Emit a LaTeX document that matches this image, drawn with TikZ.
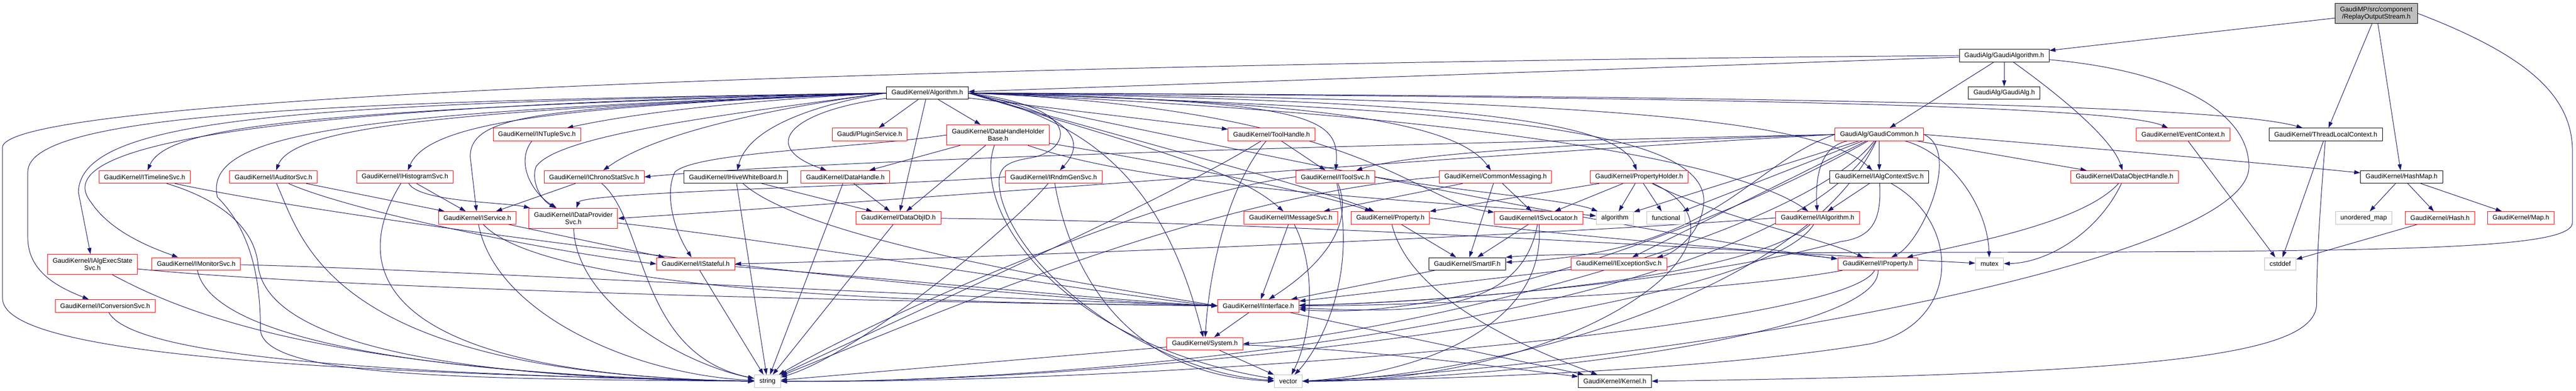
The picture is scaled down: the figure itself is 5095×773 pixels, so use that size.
\documentclass[tikz,border=0pt]{standalone}
\usepackage{fontspec}
\setmainfont{Liberation Sans}
\usetikzlibrary{arrows.meta}
\definecolor{midnight}{HTML}{191970}
\definecolor{grey75}{HTML}{BFBFBF}
\pgfdeclarelayer{bg}
\pgfsetlayers{bg,main}

\begin{document}
\begin{tikzpicture}[x=1pt, y=-1pt,
  box/.style={rectangle, draw, fill=white, line width=1pt, font=\fontsize{13pt}{14pt}\selectfont, minimum height=25pt, inner xsep=10pt, inner ysep=2pt},
  redbox/.style={box, draw=red},
  blackbox/.style={box, draw=black},
  graybox/.style={box, draw=grey75},
  tworow/.style={align=center, minimum height=40pt},
  edge/.style={draw=midnight, line width=1pt, -{Triangle[length=12pt, width=8pt]}}
]
\useasboundingbox (0,0) rectangle (5095,773);

\node[box, fill=grey75, tworow] (root) at (4700,26.5) {GaudiMP/src/component\\/ReplayOutputStream.h};
\node[blackbox] (gaudialgo) at (3964,110) {GaudiAlg/GaudiAlgorithm.h};
\node[blackbox] (algorithm) at (1834,184) {GaudiKernel/Algorithm.h};
\node[blackbox] (gaudialg) at (3964,184) {GaudiAlg/GaudiAlg.h};

\node[redbox] (ntuple) at (1062,266) {GaudiKernel/INTupleSvc.h};
\node[redbox] (plugin) at (1720,266) {Gaudi/PluginService.h};
\node[redbox, tworow] (dhholder) at (1974,267) {GaudiKernel/DataHandleHolder\\Base.h};
\node[redbox] (toolhandle) at (2515,266) {GaudiKernel/ToolHandle.h};
\node[redbox] (common) at (3717,266) {GaudiAlg/GaudiCommon.h};
\node[redbox] (evctx) at (4318,266) {GaudiKernel/EventContext.h};
\node[blackbox] (tlctx) at (4600,266) {GaudiKernel/ThreadLocalContext.h};

\node[redbox] (timeline) at (286,350) {GaudiKernel/ITimelineSvc.h};
\node[redbox] (auditor) at (541,350) {GaudiKernel/IAuditorSvc.h};
\node[redbox] (histo) at (801,350) {GaudiKernel/IHistogramSvc.h};
\node[redbox] (chrono) at (1175,350) {GaudiKernel/IChronoStatSvc.h};
\node[blackbox] (hive) at (1455,350) {GaudiKernel/IHiveWhiteBoard.h};
\node[redbox] (dhandle) at (1672,350) {GaudiKernel/DataHandle.h};
\node[redbox] (rndm) at (2084,350) {GaudiKernel/IRndmGenSvc.h};
\node[redbox] (toolsvc) at (2641,350) {GaudiKernel/IToolSvc.h};
\node[redbox] (commonmsg) at (2958,350) {GaudiKernel/CommonMessaging.h};
\node[redbox] (propholder) at (3242,350) {GaudiKernel/PropertyHolder.h};
\node[blackbox] (algctx) at (3717,350) {GaudiKernel/IAlgContextSvc.h};
\node[redbox] (dobjhandle) at (4202,350) {GaudiKernel/DataObjectHandle.h};
\node[blackbox] (hashmap) at (4750,350) {GaudiKernel/HashMap.h};

\node[redbox] (service) at (944,431) {GaudiKernel/IService.h};
\node[redbox, tworow] (dataprov) at (1134,432) {GaudiKernel/IDataProvider\\Svc.h};
\node[redbox] (dataobjid) at (1777,431) {GaudiKernel/DataObjID.h};
\node[redbox] (msgsvc) at (2553,431) {GaudiKernel/IMessageSvc.h};
\node[redbox] (property) at (2750,431) {GaudiKernel/Property.h};
\node[redbox] (svcloc) at (3043,431) {GaudiKernel/ISvcLocator.h};
\node[graybox] (stdalgo) at (3194,431) {algorithm};
\node[graybox] (functional) at (3295,431) {functional};
\node[redbox] (ialgorithm) at (3595,431) {GaudiKernel/IAlgorithm.h};
\node[graybox] (umap) at (4675,431) {unordered\_map};
\node[redbox] (hash) at (4826,431) {GaudiKernel/Hash.h};
\node[redbox] (map) at (4986,431) {GaudiKernel/Map.h};

\node[redbox, tworow] (execstate) at (183,523) {GaudiKernel/IAlgExecState\\Svc.h};
\node[redbox] (monitor) at (388,522) {GaudiKernel/IMonitorSvc.h};
\node[redbox] (stateful) at (1376,522) {GaudiKernel/IStateful.h};
\node[blackbox] (smartif) at (2902,522) {GaudiKernel/SmartIF.h};
\node[redbox] (exception) at (3202,522) {GaudiKernel/IExceptionSvc.h};
\node[redbox] (iproperty) at (3714,522) {GaudiKernel/IProperty.h};
\node[graybox] (mutex) at (3935,522) {mutex};
\node[graybox] (cstddef) at (4510,522) {cstddef};

\node[redbox] (conversion) at (208,605) {GaudiKernel/IConversionSvc.h};
\node[redbox] (iinterface) at (2489,605) {GaudiKernel/IInterface.h};
\node[redbox] (system) at (2383,680) {GaudiKernel/System.h};
\node[graybox] (string) at (1518,754) {string};
\node[graybox] (vector) at (2548,754) {vector};
\node[blackbox] (kernel) at (3194,754) {GaudiKernel/Kernel.h};

\begin{pgfonlayer}{bg}
\fill[white] (0,0) rectangle (5095,773);

\draw[edge] (root) -- (gaudialgo);
\draw[edge] (root) -- (tlctx);
\draw[edge] (root) -- (hashmap);
\draw[edge] (root.east) .. controls (5000,110) and (5088,190) .. (5088,300) -- (5088,440) .. controls (5088,490) and (4800,497) .. (4000,499) .. controls (3300,500) and (3050,502) .. (smartif.north east);

\draw[edge] (gaudialgo) -- (algorithm);
\draw[edge] (gaudialgo) -- (gaudialg);
\draw[edge] (gaudialgo) -- (common);
\draw[edge] (gaudialgo) .. controls (4090,200) and (4180,280) .. (dobjhandle);
\draw[edge] (gaudialgo.west) .. controls (2500,120) and (30,170) .. (5,290) -- (5,590) .. controls (5,690) and (500,735) .. (string.west);
\draw[edge] (gaudialgo) .. controls (4300,140) and (4448,220) .. (4448,330) .. controls (4448,520) and (3300,720) .. (vector.east);

\draw[edge] (algorithm.west) .. controls (700,200) and (55,220) .. (55,340) -- (55,470) .. controls (55,540) and (120,570) .. (conversion);
\draw[edge] (algorithm.west) .. controls (600,205) and (160,230) .. (155,380) -- (execstate);
\draw[edge] (algorithm.west) .. controls (400,212) and (100,300) .. (180,400) .. controls (220,460) and (300,490) .. (monitor);
\draw[edge] (algorithm.west) .. controls (600,216) and (330,250) .. (timeline);
\draw[edge] (algorithm.west) .. controls (900,218) and (580,250) .. (auditor);
\draw[edge] (algorithm.west) .. controls (1150,210) and (850,235) .. (histo);
\draw[edge] (algorithm.west) .. controls (700,222) and (400,260) .. (430,390) .. controls (500,460) and (515,560) .. (515,650) .. controls (515,745) and (900,750) .. (string.west);
\draw[edge] (algorithm.west) .. controls (1450,200) and (1250,225) .. (ntuple);
\draw[edge] (algorithm.west) .. controls (1100,214) and (930,220) .. (930,310) -- (service);
\draw[edge] (algorithm.west) .. controls (1400,230) and (1100,270) .. (1060,330) .. controls (1050,360) and (1070,395) .. (dataprov);
\draw[edge] (algorithm.west) .. controls (1550,210) and (1300,260) .. (chrono);
\draw[edge] (algorithm.west) .. controls (1620,205) and (1480,250) .. (hive);
\draw[edge] (algorithm) .. controls (1560,220) and (1500,290) .. (dhandle);
\draw[edge] (algorithm) -- (plugin);
\draw[edge] (algorithm) -- (dhholder);
\draw[edge] (algorithm) -- (dataobjid);
\draw[edge] (algorithm) -- (toolhandle);
\draw[edge] (algorithm.east) .. controls (2150,230) and (2140,290) .. (rndm);
\draw[edge] (algorithm.east) .. controls (2600,200) and (2650,230) .. (toolsvc);
\draw[edge] (algorithm.east) .. controls (2600,200) and (2880,240) .. (commonmsg);
\draw[edge] (algorithm.east) .. controls (2900,198) and (3200,240) .. (propholder);
\draw[edge] (algorithm.east) .. controls (3200,196) and (3600,240) .. (algctx);
\draw[edge] (algorithm.east) .. controls (3600,192) and (4200,215) .. (evctx);
\draw[edge] (algorithm.east) .. controls (3800,190) and (4420,215) .. (tlctx);
\draw[edge] (algorithm.east) .. controls (3000,230) and (3450,330) .. (ialgorithm);
\draw[edge] (algorithm.east) .. controls (2300,300) and (2450,340) .. (msgsvc);
\draw[edge] (algorithm.east) .. controls (2250,280) and (2600,370) .. (property);
\draw[edge] (algorithm.east) .. controls (2700,215) and (2800,400) .. (svcloc);
\draw[edge] (algorithm.east) .. controls (2500,310) and (3300,470) .. (iproperty);
\draw[edge] (algorithm.east) .. controls (2900,215) and (3375,250) .. (3370,400) .. controls (3365,470) and (3300,505) .. (exception);
\draw[edge] (algorithm.east) .. controls (2150,240) and (2300,350) .. (system);
\draw[edge] (algorithm.east) .. controls (2160,215) and (2110,300) .. (2040,312) .. controls (1975,322) and (1970,340) .. (1980,390) .. controls (2025,560) and (2300,740) .. (vector);

\draw[edge] (common) -- (algctx);
\draw[edge] (common) .. controls (3600,290) and (3590,350) .. (ialgorithm);
\draw[edge] (common) -- (dobjhandle);
\draw[edge] (common.east) .. controls (4100,290) and (4450,320) .. (hashmap);
\draw[edge] (common) .. controls (3850,300) and (3930,400) .. (mutex);
\draw[edge] (common.west) .. controls (3000,280) and (1700,310) .. (chrono.east);
\draw[edge] (common.west) .. controls (3200,280) and (2800,300) .. (toolsvc);
\draw[edge] (common.west) .. controls (3000,300) and (1800,395) .. (dataprov.east);
\draw[edge] (common.west) .. controls (3450,330) and (3400,500) .. (smartif);
\draw[edge] (common.east) .. controls (3880,300) and (3800,480) .. (iproperty);
\draw[edge] (common) -- (exception);
\draw[edge] (common) .. controls (3450,420) and (2900,640) .. (iinterface);
\draw[edge] (common) .. controls (3550,480) and (2700,670) .. (system.east);
\draw[edge] (common) .. controls (3500,640) and (2100,760) .. (string.east);
\draw[edge] (common) .. controls (3560,600) and (2900,750) .. (vector.east);
\draw[edge] (common) -- (stdalgo);
\draw[edge] (common) -- (functional);

\draw[edge] (dobjhandle) .. controls (4120,440) and (3900,480) .. (iproperty);
\draw[edge] (dobjhandle) .. controls (4150,460) and (4050,520) .. (mutex);

\draw[edge] (dhholder) -- (dhandle);
\draw[edge] (dhholder) -- (dataobjid);
\draw[edge] (dhholder.west) .. controls (1700,293) and (1380,300) .. (1335,340) .. controls (1315,380) and (1330,450) .. (stateful);
\draw[edge] (dhholder) .. controls (1920,420) and (2100,680) .. (vector);
\draw[edge] (dhholder) .. controls (2300,320) and (2600,380) .. (property);
\draw[edge] (dhholder) .. controls (2300,380) and (2900,400) .. (stdalgo);

\draw[edge] (dhandle) -- (dataobjid);
\draw[edge] (dhandle) -- (string);

\draw[edge] (toolhandle) -- (toolsvc);
\draw[edge] (toolhandle) .. controls (2300,400) and (1800,620) .. (string);
\draw[edge] (toolhandle) .. controls (2420,380) and (2390,560) .. (system);

\draw[edge] (ntuple) .. controls (1020,320) and (1050,380) .. (dataprov);

\draw[edge] (histo) .. controls (830,400) and (1000,400) .. (dataprov);
\draw[edge] (histo) .. controls (720,480) and (650,740) .. (string.west);
\draw[edge] (histo) -- (service);

\draw[edge] (timeline) .. controls (700,440) and (1900,590) .. (iinterface.west);
\draw[edge] (timeline) .. controls (420,390) and (500,440) .. (510,520) .. controls (520,680) and (900,750) .. (string.west);

\draw[edge] (auditor) -- (service);
\draw[edge] (auditor) .. controls (600,480) and (650,740) .. (string.west);
\draw[edge] (auditor) .. controls (700,420) and (1100,500) .. (stateful.west);

\draw[edge] (execstate) .. controls (700,575) and (1900,600) .. (iinterface.west);
\draw[edge] (execstate) .. controls (330,600) and (600,740) .. (string.west);

\draw[edge] (monitor) .. controls (800,530) and (1900,590) .. (iinterface.west);
\draw[edge] (monitor) .. controls (420,680) and (900,745) .. (string.west);

\draw[edge] (conversion) .. controls (260,700) and (700,740) .. (string.west);

\draw[edge] (chrono) -- (service);
\draw[edge] (chrono) .. controls (1280,440) and (1260,700) .. (string);

\draw[edge] (hive) -- (string);
\draw[edge] (hive) -- (dataobjid);
\draw[edge] (hive) .. controls (1600,480) and (2200,570) .. (iinterface.west);

\draw[edge] (service) -- (stateful);
\draw[edge] (service) .. controls (980,620) and (1250,740) .. (string);
\draw[edge] (service) .. controls (1100,600) and (2100,600) .. (iinterface.west);

\draw[edge] (dataprov) .. controls (1140,600) and (1350,720) .. (string);
\draw[edge] (dataprov) .. controls (1500,470) and (2200,585) .. (iinterface.west);

\draw[edge] (stateful) -- (string);
\draw[edge] (stateful) .. controls (1700,545) and (2200,595) .. (iinterface.west);

\draw[edge] (dataobjid) -- (string);
\draw[edge] (dataobjid) .. controls (2600,440) and (3500,500) .. (mutex);

\draw[edge] (rndm.west) .. controls (1750,368) and (1150,380) .. (dataprov);
\draw[edge] (rndm) .. controls (2000,450) and (1700,700) .. (string);
\draw[edge] (rndm) .. controls (2110,500) and (2200,740) .. (vector.west);

\draw[edge] (toolsvc) .. controls (2690,470) and (2560,560) .. (iinterface);
\draw[edge] (toolsvc.west) .. controls (2300,380) and (1750,620) .. (string);
\draw[edge] (toolsvc) .. controls (2690,560) and (2600,700) .. (vector);
\draw[edge] (toolsvc.east) .. controls (2900,380) and (3100,395) .. (stdalgo);

\draw[edge] (commonmsg) -- (msgsvc);
\draw[edge] (commonmsg) -- (smartif);
\draw[edge] (commonmsg) -- (svcloc);
\draw[edge] (commonmsg.west) .. controls (2400,385) and (1900,600) .. (string);

\draw[edge] (propholder) -- (property);
\draw[edge] (propholder) -- (svcloc);
\draw[edge] (propholder) -- (stdalgo);
\draw[edge] (propholder) -- (functional);
\draw[edge] (propholder) .. controls (3400,430) and (3600,470) .. (iproperty);
\draw[edge] (propholder) .. controls (3520,480) and (3100,760) .. (vector.east);

\draw[edge] (algctx) -- (ialgorithm);
\draw[edge] (algctx) .. controls (3722,440) and (3700,470) .. (3640,478) .. controls (3350,560) and (2800,600) .. (iinterface);
\draw[edge] (algctx) .. controls (3880,440) and (3880,640) .. (3700,680) .. controls (3400,730) and (2900,750) .. (vector.east);

\draw[edge] (msgsvc) -- (iinterface);
\draw[edge] (msgsvc) .. controls (2600,520) and (2600,650) .. (vector);

\draw[edge] (property) -- (smartif);
\draw[edge] (property) .. controls (2790,600) and (3050,700) .. (kernel);
\draw[edge] (property.east) .. controls (3100,470) and (3500,495) .. (iproperty);

\draw[edge] (svcloc) -- (smartif);
\draw[edge] (svcloc) .. controls (3010,620) and (2800,620) .. (iinterface);
\draw[edge] (svcloc) .. controls (3060,650) and (2800,740) .. (vector.east);

\draw[edge] (ialgorithm.west) .. controls (3000,470) and (1800,515) .. (stateful.east);
\draw[edge] (ialgorithm) .. controls (3450,560) and (2800,600) .. (iinterface);
\draw[edge] (ialgorithm) .. controls (3480,620) and (2200,760) .. (string.east);

\draw[edge] (iproperty) .. controls (3400,580) and (2800,605) .. (iinterface);
\draw[edge] (iproperty) .. controls (3650,650) and (2300,760) .. (string.east);
\draw[edge] (iproperty) .. controls (3720,660) and (3000,750) .. (vector.east);

\draw[edge] (exception) -- (iinterface);
\draw[edge] (smartif) -- (iinterface);
\draw[edge] (iinterface) -- (system);
\draw[edge] (iinterface) -- (kernel);
\draw[edge] (system) -- (string);
\draw[edge] (system) -- (vector);
\draw[edge] (system) .. controls (2700,690) and (3000,730) .. (kernel);

\draw[edge] (hashmap) -- (umap);
\draw[edge] (hashmap) -- (hash);
\draw[edge] (hashmap) -- (map);
\draw[edge] (hash) -- (cstddef);
\draw[edge] (evctx) -- (cstddef);
\draw[edge] (tlctx) -- (cstddef);
\draw[edge] (tlctx) .. controls (4590,400) and (4582,500) .. (4582,600) .. controls (4582,700) and (4300,740) .. (kernel.east);
\end{pgfonlayer}
\end{tikzpicture}
\end{document}
